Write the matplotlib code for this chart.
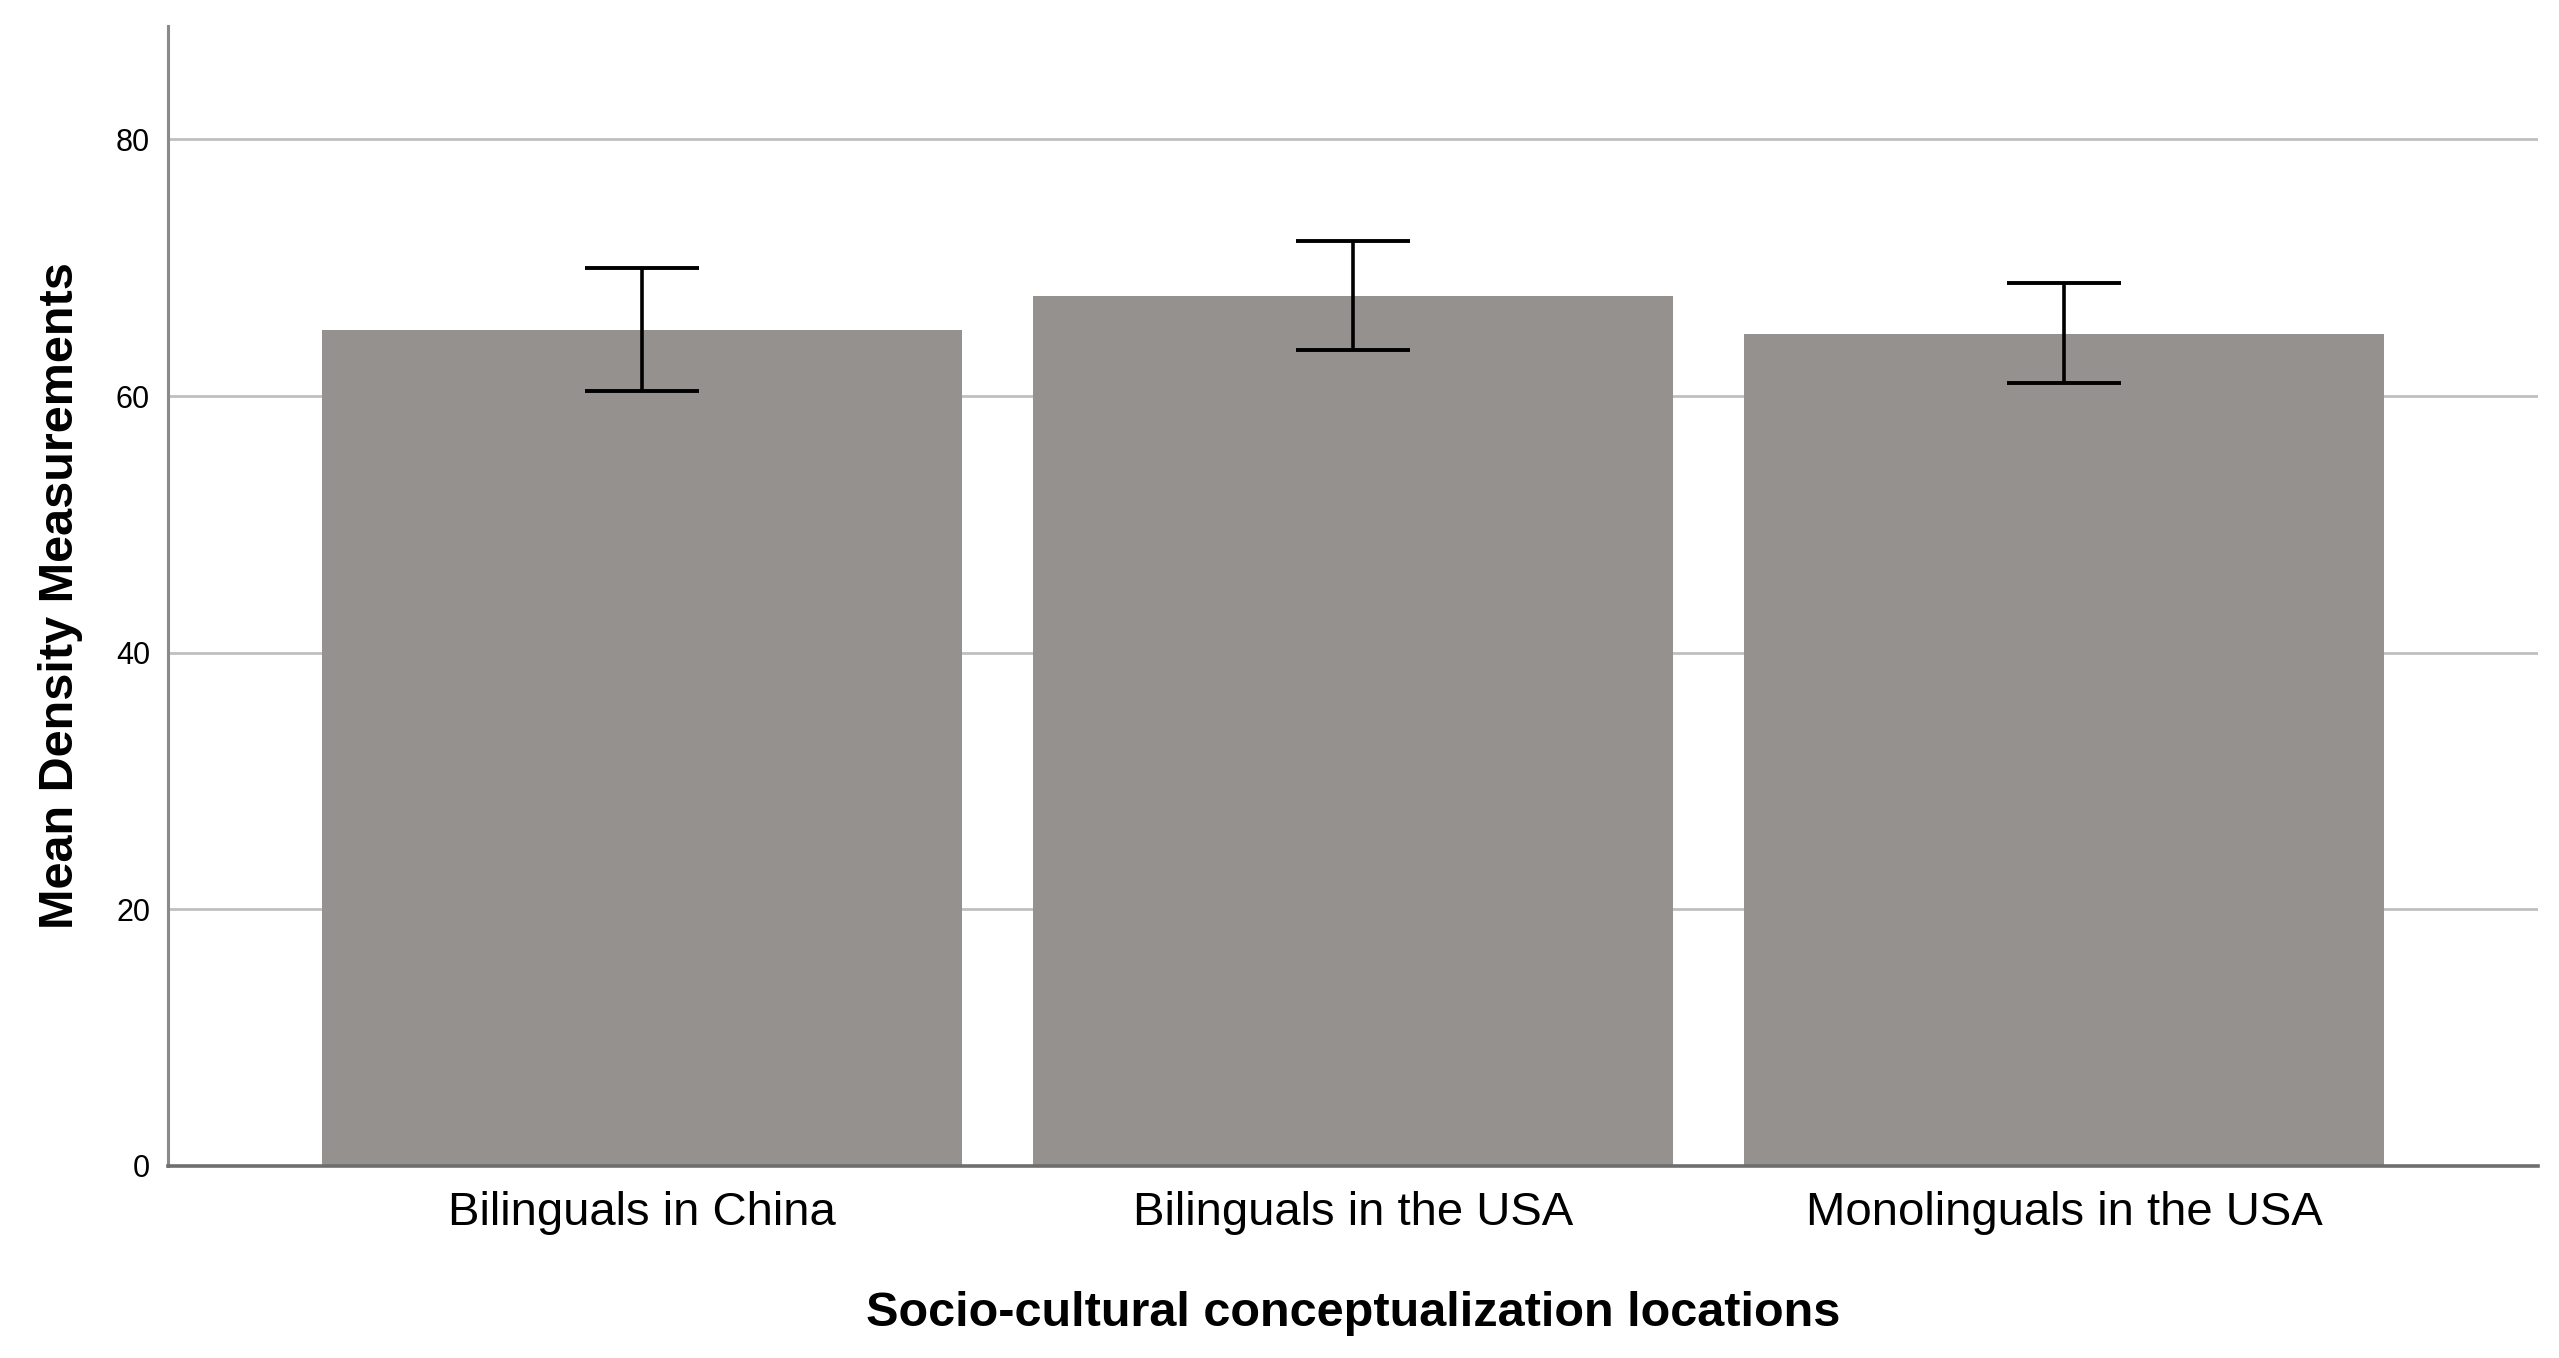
import numpy as np
import matplotlib
matplotlib.use("Agg")
import matplotlib.pyplot as plt

# values
groups = ["Bilinguals in China", "Bilinguals in the USA", "Monolinguals in the USA"]
means = [65.15, 67.8, 64.8]
ci_low = [60.4, 63.6, 61.0]
ci_high = [70.0, 72.1, 68.8]
yticks = [0, 20, 40, 60, 80]

bar_color = "#95918f"
font = ["Liberation Sans", "DejaVu Sans"]

fig = plt.figure(figsize=(25.59, 13.58), dpi=100)
ax = fig.add_axes([0.0657, 0.1414, 0.9261, 0.8396])

x = np.arange(len(groups))
means_arr = np.array(means)
yerr = [means_arr - np.array(ci_low), np.array(ci_high) - means_arr]

ax.bar(x, means, width=0.9, color=bar_color, zorder=2)
ax.errorbar(x, means, yerr=yerr, fmt="none", ecolor="black",
            elinewidth=2.6, capsize=41, capthick=2.8, zorder=3)

# gridlines except at zero
for t in yticks[1:]:
    ax.axhline(t, color="#c0c0c0", lw=2.0, zorder=1)

ax.set_xlim(-2 / 3, 2 + 2 / 3)
ax.set_ylim(0, 88.85)
ax.set_yticks(yticks)
ax.set_xticks(x)
ax.set_xticklabels(groups, family=font, fontsize=34)
ax.set_yticklabels([str(t) for t in yticks], family=font, fontsize=22)
ax.tick_params(axis="y", length=0, pad=13)
ax.tick_params(axis="x", length=0, pad=18)

for s in ["top", "right"]:
    ax.spines[s].set_visible(False)
ax.spines["left"].set_color("#8a8a8a")
ax.spines["left"].set_linewidth(2.2)
ax.spines["bottom"].set_color("#6e6e6e")
ax.spines["bottom"].set_linewidth(2.6)

ax.set_xlabel("Socio-cultural conceptualization locations", family=font,
              fontweight="bold", fontsize=35, labelpad=40)
ax.set_ylabel("Mean Density Measurements", family=font,
              fontweight="bold", fontsize=35, labelpad=24)

fig.savefig("out.png", dpi=100)
